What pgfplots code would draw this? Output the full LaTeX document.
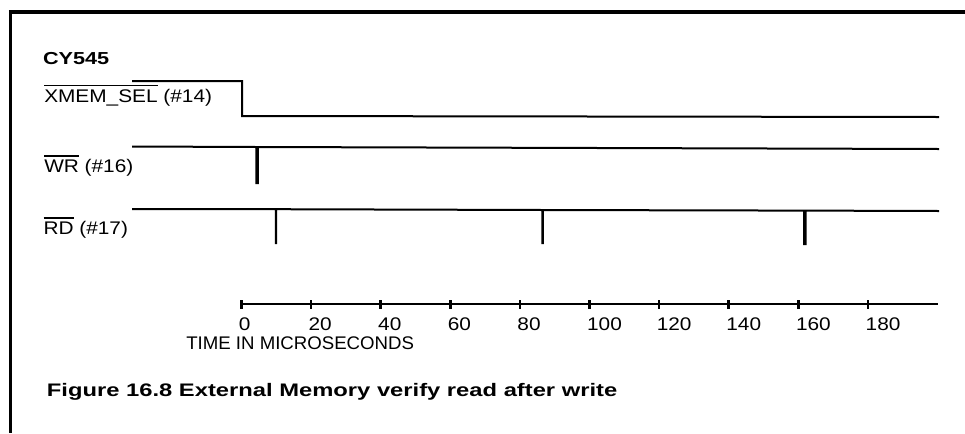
\documentclass[border=0pt]{standalone}
\usepackage{fontspec}
\setmainfont{Liberation Sans}[FakeStretch=1.14]
\newfontfamily\timefont{Liberation Sans}[FakeStretch=1.02]
\newfontfamily\headfont{Liberation Sans}[FakeStretch=1.31]
\newfontfamily\chipfont{Liberation Sans}[FakeStretch=1.25]
\usepackage{pgfplots}
\pgfplotsset{compat=1.18}

% overline over a signal name (active low)
\newcommand\ol[1]{\vbox{\hrule height 1.1pt\kern 2.4pt\hbox{#1}}}
\newcommand\lbl{\fontsize{13.7}{16}\selectfont}

\begin{document}
\begin{tikzpicture}
\useasboundingbox (0,0) rectangle (723.75pt,324.75pt);
% signals: x in microseconds, y in pixels from the top
\begin{axis}[
    at={(0,0)}, anchor=south west,
    scale only axis, width=723.75pt, height=324.75pt,
    xmin=-69.16, xmax=207.42, ymin=0, ymax=433, y dir=reverse,
    hide axis, clip=false]

  % frame (top and left only)
  \draw[line width=3pt] (axis cs:-66.6,12) -- (axis cs:207.42,12);
  \draw[line width=2.6pt] (axis cs:-66.15,10) -- (axis cs:-66.15,433);

  \node[anchor=base west, inner sep=0pt, font=\chipfont\bfseries\fontsize{13}{15}\selectfont]
    at (axis cs:-56.9,64.3) {CY545};

  % XMEM_SEL
  \addplot[black, line width=1.5pt] coordinates {
    (-31.3,81) (0.2,81) (0.2,116) (200,117)};
  \node[anchor=base west, inner sep=0pt, font=\lbl]
    at (axis cs:-56.55,102) {\ol{XMEM\_SEL} (\#14)};

  % WR
  \addplot[black, line width=1.5pt] coordinates {
    (-31.3,146.5) (4.3,147) (4.3,183) (4.75,183) (4.75,147) (200,149)};
  \node[anchor=base west, inner sep=0pt, font=\lbl]
    at (axis cs:-56.55,172.3) {\ol{WR} (\#16)};

  % RD
  \addplot[black, line width=1.5pt] coordinates {
    (-31.3,209) (9.9,209.2) (9.9,243) (10.0,243) (10.0,209.2)
    (86.3,210) (86.3,243) (86.4,243) (86.4,210)
    (161.3,210.6) (161.3,244) (161.75,244) (161.75,210.6) (200,211)};
  \node[anchor=base west, inner sep=0pt, font=\lbl]
    at (axis cs:-56.75,234.3) {\ol{RD} (\#17)};

  \node[anchor=base west, inner sep=0pt, font=\timefont\fontsize{13.7}{16}\selectfont]
    at (axis cs:-15.85,349) {TIME IN MICROSECONDS};

  \node[anchor=base west, inner sep=0pt, font=\headfont\bfseries\fontsize{13.6}{15}\selectfont]
    at (axis cs:-55.77,396) {Figure 16.8 External Memory verify read after write};
\end{axis}

% time axis
\begin{axis}[
    at={(180.98pt,96.53pt)}, anchor=south west,
    scale only axis, width=522.3pt, height=1pt,
    xmin=0, xmax=200, ymin=0, ymax=1,
    axis x line*=bottom, axis y line=none,
    xtick={0,20,40,60,80,100,120,140,160,180},
    xticklabels={0,20,40,60,80,100,120,140,160,180},
    ytick=\empty,
    major tick length=7pt, tick align=center,
    tick style={line width=2pt, black},
    axis line style={line width=1.2pt},
    xticklabel style={anchor=north west, inner sep=0pt, xshift=-2pt, yshift=-6.5pt, font=\lbl}]
\end{axis}
\end{tikzpicture}
\end{document}
